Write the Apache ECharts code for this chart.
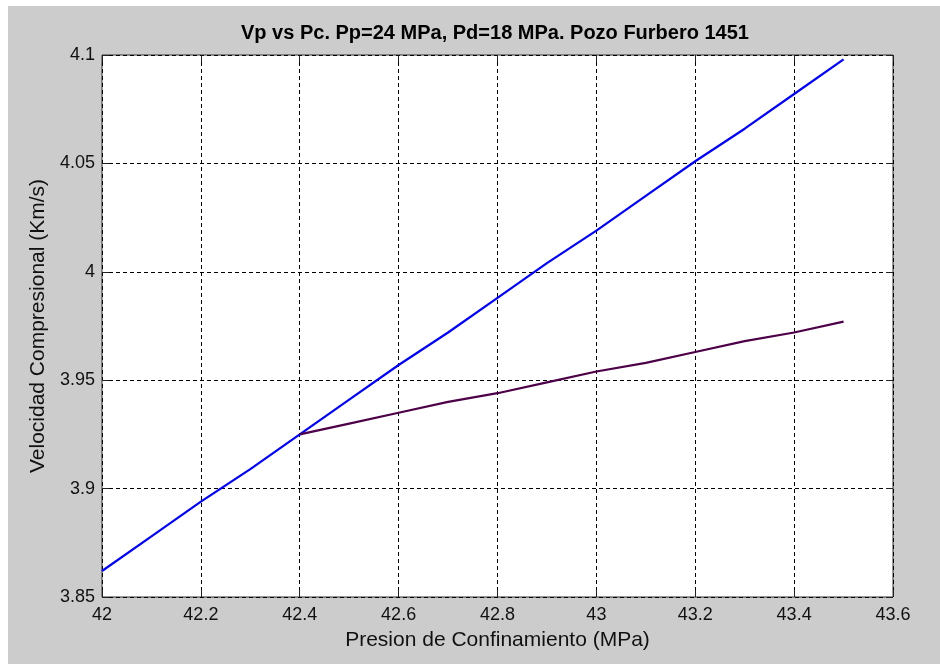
<!DOCTYPE html>
<html>
<head>
<meta charset="utf-8">
<script src="https://cdn.jsdelivr.net/npm/echarts@6/dist/echarts.min.js"></script>
<style>
html,body{margin:0;padding:0;background:#fff;}
#c{width:940px;height:664px;}
</style>
</head>
<body>
<div id="c"></div>
<script>
// Data
const titleText = 'Vp vs Pc. Pp=24 MPa, Pd=18 MPa. Pozo Furbero 1451';
const xName = 'Presion de Confinamiento (MPa)';
const yName = 'Velocidad Compresional (Km/s)';

const blueX = [42.0, 42.1, 42.2, 42.3, 42.4, 42.5, 42.6, 42.7, 42.8, 42.9, 43.0, 43.1, 43.2, 43.3, 43.4, 43.5];
const blueY = [3.862, 3.878, 3.894, 3.909, 3.925, 3.941, 3.957, 3.972, 3.988, 4.004, 4.019, 4.035, 4.051, 4.066, 4.082, 4.098];

const purpleX = [42.4, 42.5, 42.6, 42.7, 42.8, 42.9, 43.0, 43.1, 43.2, 43.3, 43.4, 43.5];
const purpleY = [3.925, 3.930, 3.935, 3.940, 3.944, 3.949, 3.954, 3.958, 3.963, 3.968, 3.972, 3.977];

const xMin = 42, xMax = 43.6, xStep = 0.2;
const yMin = 3.85, yMax = 4.1, yStep = 0.05;

const zip = (xs, ys) => xs.map((x, i) => [x, ys[i]]);

const FONT = 'Arial, "Liberation Sans", sans-serif';
const chart = echarts.init(document.getElementById('c'), null, {renderer: 'canvas'});

const tickLabel = {color: '#111', fontSize: 18, fontFamily: FONT};
chart.setOption({
  animation: false,
  backgroundColor: '#cccccc',
  graphic: {elements: [
    {type: 'rect', silent: true, shape: {x: 0, y: 0, width: 940, height: 6}, style: {fill: '#ffffff'}},
    {type: 'rect', silent: true, shape: {x: 0, y: 0, width: 8, height: 664}, style: {fill: '#ffffff'}}
  ]},
  title: {
    text: titleText,
    left: 490, top: 18, textAlign: 'center',
    textStyle: {fontSize: 20, fontWeight: 'bold', color: '#000', fontFamily: FONT}
  },
  grid: {
    left: 102, right: 47, top: 55, bottom: 67,
    show: true, backgroundColor: '#ffffff', borderColor: '#333', borderWidth: 1
  },
  xAxis: [{
    type: 'value', min: xMin, max: xMax, interval: xStep, position: 'bottom',
    name: xName, nameLocation: 'middle', nameGap: 33,
    nameTextStyle: {fontSize: 21, color: '#111', fontFamily: FONT},
    axisLine: {show: false},
    axisTick: {show: true, inside: true, length: 7, lineStyle: {color: '#222'}},
    axisLabel: Object.assign({margin: 9}, tickLabel),
    splitLine: {show: true, lineStyle: {color: '#000', type: [4, 3], width: 1}}
  }, {
    type: 'value', min: xMin, max: xMax, interval: xStep, position: 'top',
    axisLine: {show: false},
    axisTick: {show: true, inside: true, length: 7, lineStyle: {color: '#222'}},
    axisLabel: {show: false}, splitLine: {show: false}
  }],
  yAxis: [{
    type: 'value', min: yMin, max: yMax, interval: yStep, position: 'left',
    name: yName, nameLocation: 'middle', nameGap: 49,
    nameTextStyle: {fontSize: 21, color: '#111', fontFamily: FONT},
    axisLine: {show: false},
    axisTick: {show: true, inside: true, length: 7, lineStyle: {color: '#222'}},
    axisLabel: Object.assign({margin: 7}, tickLabel),
    splitLine: {show: true, lineStyle: {color: '#000', type: [4, 3], width: 1}}
  }, {
    type: 'value', min: yMin, max: yMax, interval: yStep, position: 'right',
    axisLine: {show: false},
    axisTick: {show: true, inside: true, length: 7, lineStyle: {color: '#222'}},
    axisLabel: {show: false}, splitLine: {show: false}
  }],
  series: [{
    type: 'line', data: zip(blueX, blueY), showSymbol: false,
    lineStyle: {color: '#0000ff', width: 2.2}, itemStyle: {color: '#0000ff'}
  }, {
    type: 'line', data: zip(purpleX, purpleY), showSymbol: false,
    lineStyle: {color: '#4d0047', width: 2.2}, itemStyle: {color: '#4d0047'}
  }]
});
</script>
</body>
</html>
